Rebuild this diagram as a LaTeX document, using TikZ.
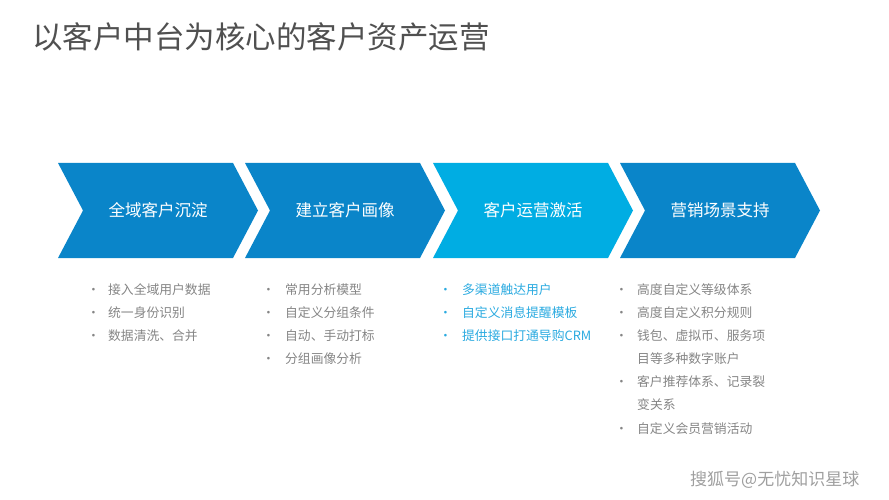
\documentclass[tikz,border=0pt]{standalone}
\usepackage{fontspec}
\setmainfont{Noto Sans CJK SC}
\usepackage{xcolor}
\usepackage{tikz}
\definecolor{darkblue}{HTML}{0A85C9}
\definecolor{lightblue}{HTML}{00ADE3}
\definecolor{itemgray}{HTML}{858585}
\definecolor{itemcyan}{HTML}{2AAAE0}
\definecolor{titlegray}{HTML}{505050}

\begin{document}
\begin{tikzpicture}[x=1pt,y=-1pt,
    chev/.style={fill=#1,draw=none},
    chevlabel/.style={text=white,font=\fontsize{16.5}{18}\selectfont,inner sep=0pt},
    item/.style={anchor=west,inner sep=0pt,text=itemgray,font=\fontsize{12.8}{14}\selectfont},
    hitem/.style={item,text=itemcyan}
]
\useasboundingbox (0,0) rectangle (889,500);

% Title
\node[anchor=west,inner sep=0pt,text=titlegray,font=\fontsize{30.5}{34}\selectfont] (title) at (32,37){以客户中台为核心的客户资产运营};

% Chevrons
\fill[chev=darkblue] (58,163) -- (233,163) -- (258,210.5) -- (233,258) -- (58,258) -- (83,210.5) -- cycle;
\fill[chev=darkblue] (245,163) -- (420,163) -- (445,210.5) -- (420,258) -- (245,258) -- (270,210.5) -- cycle;
\fill[chev=lightblue] (433,163) -- (608,163) -- (633,210.5) -- (608,258) -- (433,258) -- (458,210.5) -- cycle;
\fill[chev=darkblue] (620,163) -- (795,163) -- (820,210.5) -- (795,258) -- (620,258) -- (645,210.5) -- cycle;
\node[chevlabel] (step1) at (158,210.5){全域客户沉淀};
\node[chevlabel] (step2) at (345,210.5){建立客户画像};
\node[chevlabel] (step3) at (533,210.5){客户运营激活};
\node[chevlabel] (step4) at (720,210.5){营销场景支持};

% Items under each step
\node[item] (a1) at (87,290){\makebox[21pt][l]{•}接入全域用户数据};
\node[item] (a2) at (87,313){\makebox[21pt][l]{•}统一身份识别};
\node[item] (a3) at (87,336){\makebox[21pt][l]{•}数据清洗、合并};

\node[item] (b1) at (262,290){\makebox[23pt][l]{•}常用分析模型};
\node[item] (b2) at (262,313){\makebox[23pt][l]{•}自定义分组条件};
\node[item] (b3) at (262,336){\makebox[23pt][l]{•}自动、手动打标};
\node[item] (b4) at (262,359){\makebox[23pt][l]{•}分组画像分析};

\node[hitem] (c1) at (439,290){\makebox[23pt][l]{•}多渠道触达用户};
\node[hitem] (c2) at (439,313){\makebox[23pt][l]{•}自定义消息提醒模板};
\node[hitem] (c3) at (439,336){\makebox[23pt][l]{•}提供接口打通导购CRM};

\node[item] (d1) at (615,290){\makebox[22pt][l]{•}高度自定义等级体系};
\node[item] (d2) at (615,313){\makebox[22pt][l]{•}高度自定义积分规则};
\node[item] (d3) at (615,336){\makebox[22pt][l]{•}钱包、虚拟币、服务项};
\node[item] (d3b) at (615,359){\makebox[22pt][l]{}目等多种数字账户};
\node[item] (d4) at (615,382){\makebox[22pt][l]{•}客户推荐体系、记录裂};
\node[item] (d4b) at (615,405){\makebox[22pt][l]{}变关系};
\node[item] (d5) at (615,429){\makebox[22pt][l]{•}自定义会员营销活动};

% Watermark
\node[anchor=west,inner sep=0pt,text=gray!75,font=\fontsize{17}{19}\selectfont] (mark) at (690,480){搜狐号@无忧知识星球};

\end{tikzpicture}
\end{document}
